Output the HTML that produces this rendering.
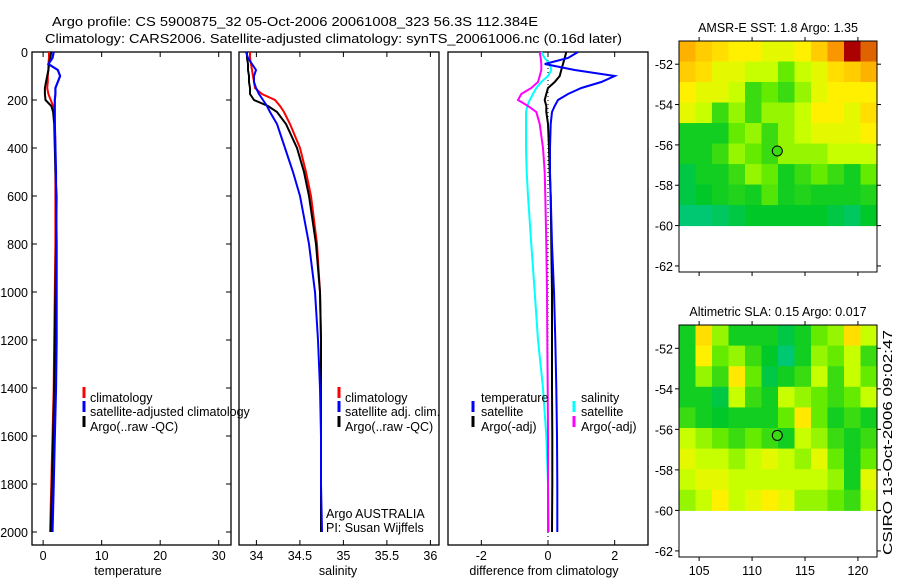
<!DOCTYPE html>
<html><head><meta charset="utf-8"><style>
html,body{margin:0;padding:0;background:#fff;width:900px;height:580px;overflow:hidden}
svg{display:block;font-family:"Liberation Sans",sans-serif;font-size:12.5px}
</style></head><body>
<svg id="fig" width="900" height="580" xmlns="http://www.w3.org/2000/svg">
<text x="52" y="26" textLength="486" lengthAdjust="spacingAndGlyphs">Argo profile: CS 5900875_32 05-Oct-2006 20061008_323 56.3S 112.384E</text>
<text x="45" y="43" textLength="577" lengthAdjust="spacingAndGlyphs">Climatology: CARS2006. Satellite-adjusted climatology: synTS_20061006.nc (0.16d later)</text>
<text transform="translate(892,555) rotate(-90)" textLength="225" lengthAdjust="spacingAndGlyphs">CSIRO 13-Oct-2006 09:02:47</text>
</svg>
<script>
const depth=[0,25,50,75,100,125,150,175,200,225,250,300,400,500,600,800,1000,1200,1400,1600,1800,2000];
const tClim=[1.0,1.0,0.9,0.9,0.8,0.8,0.7,0.9,1.3,1.7,1.9,2.0,2.1,2.1,2.1,2.1,2.0,1.9,1.8,1.6,1.4,1.2];
const tSat=[1.8,1.6,0.9,2.5,2.9,2.5,2.1,2.1,2.0,2.0,2.0,2.0,2.1,2.2,2.2,2.3,2.3,2.3,2.2,2.0,1.8,1.6];
const tArgo=[1.4,1.2,1.0,0.9,0.7,0.5,0.3,0.3,0.4,1.4,1.7,1.9,2.0,2.1,2.3,2.2,2.1,2.0,1.9,1.7,1.5,1.3];
const sClim=[33.926,33.926,33.938,33.95,33.961,33.972,33.984,34.064,34.214,34.271,34.317,34.386,34.501,34.57,34.628,34.697,34.731,34.743,34.743,34.743,34.743,34.743];
const sSat=[33.88,33.903,33.949,33.995,33.972,33.972,33.995,34.03,34.076,34.122,34.156,34.237,34.329,34.421,34.501,34.605,34.674,34.708,34.731,34.743,34.743,34.754];
const sArgo=[33.892,33.892,33.903,33.903,33.915,33.915,33.926,33.926,33.972,34.133,34.237,34.34,34.467,34.547,34.605,34.685,34.731,34.743,34.743,34.743,34.743,34.743];
const dTsat=[0.9,0.6,-0.1,0.8,2.0,1.6,1.0,0.6,0.3,0.2,0.12,0.08,0.06,0.06,0.08,0.12,0.18,0.22,0.25,0.27,0.28,0.28];
const dTargo=[0.55,0.5,0.45,0.4,0.35,0.2,0.0,-0.05,-0.1,-0.05,-0.05,0.0,0.03,0.05,0.08,0.1,0.12,0.12,0.12,0.13,0.13,0.12];
const dSsat=[-0.2,-0.1,0.05,0.1,0.0,-0.2,-0.35,-0.45,-0.55,-0.62,-0.66,-0.66,-0.66,-0.64,-0.6,-0.5,-0.4,-0.3,-0.15,-0.05,0.0,0.03];
const dSargo=[-0.25,-0.22,-0.2,-0.2,-0.25,-0.3,-0.5,-0.8,-0.9,-0.6,-0.35,-0.25,-0.15,-0.1,-0.08,-0.05,-0.03,-0.02,-0.01,0,0,0];
const depthTicks=[0,200,400,600,800,1000,1200,1400,1600,1800,2000];
const tTicks=[0,10,20,30];
const sTicks=[34,34.5,35,35.5,36];
const sTickLabels=["34","34.5","35","35.5","36"];
const dTicks=[-2,0,2];
const lonTicks=[105,110,115,120];
const latTicks=[-52,-54,-56,-58,-60,-62];
const sstGrid=[
[0.75,0.7,0.65,0.6,0.6,0.55,0.55,0.6,0.7,0.8,0.95,0.85],
[0.7,0.65,0.55,0.55,0.5,0.5,0.4,0.5,0.55,0.65,0.7,0.75],
[0.6,0.55,0.55,0.5,0.35,0.4,0.35,0.45,0.55,0.6,0.6,0.6],
[0.55,0.5,0.35,0.45,0.35,0.45,0.45,0.5,0.6,0.6,0.55,0.65],
[0.3,0.3,0.3,0.4,0.45,0.35,0.45,0.5,0.55,0.55,0.55,0.6],
[0.3,0.3,0.35,0.45,0.4,0.35,0.45,0.45,0.45,0.5,0.5,0.5],
[0.25,0.3,0.3,0.35,0.45,0.4,0.3,0.35,0.4,0.35,0.3,0.4],
[0.25,0.28,0.3,0.32,0.3,0.38,0.3,0.32,0.3,0.3,0.3,0.32],
[0.2,0.2,0.22,0.25,0.28,0.28,0.28,0.28,0.28,0.25,0.22,0.28]];
const slaGrid=[
[0.3,0.65,0.45,0.3,0.3,0.3,0.25,0.3,0.4,0.45,0.65,0.5],
[0.3,0.6,0.4,0.45,0.35,0.28,0.2,0.3,0.45,0.4,0.5,0.35],
[0.3,0.45,0.35,0.62,0.4,0.25,0.3,0.35,0.5,0.35,0.5,0.4],
[0.3,0.3,0.25,0.5,0.35,0.3,0.5,0.45,0.4,0.35,0.4,0.5],
[0.35,0.3,0.28,0.3,0.3,0.3,0.4,0.62,0.4,0.3,0.35,0.3],
[0.5,0.45,0.4,0.35,0.4,0.35,0.3,0.5,0.45,0.35,0.3,0.35],
[0.55,0.5,0.5,0.45,0.5,0.55,0.5,0.45,0.55,0.4,0.3,0.4],
[0.5,0.55,0.55,0.5,0.5,0.5,0.5,0.5,0.5,0.45,0.3,0.55],
[0.45,0.5,0.6,0.5,0.55,0.6,0.55,0.45,0.45,0.4,0.35,0.5]];
const argoLon=112.384, argoLat=-56.3;

const NS="http://www.w3.org/2000/svg";
const svg=document.getElementById('fig');
function mk(tag,attrs,parent){const e=document.createElementNS(NS,tag);for(const k in attrs)e.setAttribute(k,attrs[k]);(parent||svg).appendChild(e);return e;}
const yD=d=>52+d*0.24;
function panel(name,x0,x1,vmin,vmax){const g=mk('g',{});return {g,x0,x1,sx:v=>x0+(v-vmin)/(vmax-vmin)*(x1-x0)};}
function frame(p,top,bot){const r=mk('rect',{x:p.x0,y:top,width:p.x1-p.x0,height:bot-top,fill:'none',stroke:'#000','stroke-width':1.3},p.g);}
function xTicks(p,ticks,labels,top,bot){ticks.forEach((t,i)=>{const x=p.sx(t);mk('line',{x1:x,x2:x,y1:top,y2:top+5,stroke:'#000'},p.g);mk('line',{x1:x,x2:x,y1:bot,y2:bot-5,stroke:'#000'},p.g);const tx=mk('text',{x:x,y:bot+15,'text-anchor':'middle'},p.g);tx.textContent=labels[i];});}
function series(p,vals,col,w,nm){const pts=vals.map((v,i)=>p.sx(v).toFixed(1)+','+yD(depth[i]).toFixed(1)).join(' ');const l=mk('polyline',{points:pts,fill:'none',stroke:col,'stroke-width':w},p.g);}
function label(p,txt,x,y,anchor,nm){const t=mk('text',{x:x,y:y,'text-anchor':anchor||'start'},p.g);t.textContent=txt;return t;}
function legBar(p,x,y,col){const l=mk('line',{x1:x,x2:x,y1:y-10,y2:y+1,stroke:col,'stroke-width':3},p.g);}
const TOP=52,BOT=545;
const p1=panel('temperature-panel',32,231,-1.9,32.1);
frame(p1,TOP,BOT);
xTicks(p1,tTicks,tTicks.map(String),TOP,BOT);
depthTicks.forEach(d=>{const y=yD(d);mk('line',{x1:32,x2:37,y1:y,y2:y,stroke:'#000'},p1.g);mk('line',{x1:231,x2:226,y1:y,y2:y,stroke:'#000'},p1.g);label(p1,String(d),28,y+5,'end','y-tick-label');});
series(p1,tClim,'#f00',2,'temp-climatology-line');
series(p1,tArgo,'#000',2,'temp-argo-line');
series(p1,tSat,'#00f',2.2,'temp-satellite-line');
label(p1,'temperature',128,575,'middle','x-axis-title');
legBar(p1,84,397,'#f00');label(p1,'climatology',90,402,'start','legend-entry');
legBar(p1,84,411,'#00f');label(p1,'satellite-adjusted climatology',90,416,'start','legend-entry');
legBar(p1,84,426,'#000');label(p1,'Argo(..raw -QC)',90,431,'start','legend-entry');
const p2=panel('salinity-panel',239,439,33.8,36.099);
frame(p2,TOP,BOT);
xTicks(p2,sTicks,sTickLabels,TOP,BOT);
series(p2,sClim,'#f00',2,'sal-climatology-line');
series(p2,sArgo,'#000',2,'sal-argo-line');
series(p2,sSat,'#00f',2,'sal-satellite-line');
label(p2,'salinity',338,575,'middle','x-axis-title');
legBar(p2,339,397,'#f00');label(p2,'climatology',345,402,'start','legend-entry');
legBar(p2,339,411,'#00f');label(p2,'satellite adj. clim.',345,416,'start','legend-entry');
legBar(p2,339,426,'#000');label(p2,'Argo(..raw -QC)',345,431,'start','legend-entry');
label(p2,'Argo AUSTRALIA',326,518,'start','institution-label');
label(p2,'PI: Susan Wijffels',326,532,'start','pi-label');
const p3=panel('difference-panel',448,648,-3,3);
frame(p3,TOP,BOT);
xTicks(p3,dTicks,dTicks.map(String),TOP,BOT);
const zl=mk('line',{x1:p3.sx(0),x2:p3.sx(0),y1:yD(0),y2:yD(2000)+8,stroke:'#000','stroke-dasharray':'1,3'},p3.g);
series(p3,dSsat,'#0ff',2,'diff-sal-satellite-line');
series(p3,dSargo,'#f0f',2,'diff-sal-argo-line');
series(p3,dTargo,'#000',2,'diff-temp-argo-line');
series(p3,dTsat,'#00f',2,'diff-temp-satellite-line');
label(p3,'difference from climatology',544,575,'middle','x-axis-title');
label(p3,'temperature',481,402,'start','legend-title');
legBar(p3,473,411,'#00f');label(p3,'satellite',481,416,'start','legend-entry');
legBar(p3,473,426,'#000');label(p3,'Argo(-adj)',481,431,'start','legend-entry');
label(p3,'salinity',581,402,'start','legend-title');
legBar(p3,574,411,'#0ff');label(p3,'satellite',581,416,'start','legend-entry');
legBar(p3,574,426,'#f0f');label(p3,'Argo(-adj)',581,431,'start','legend-entry');
const stops=[[0.15,[0,200,160]],[0.28,[0,200,40]],[0.4,[100,235,0]],[0.5,[200,255,0]],[0.6,[255,240,0]],[0.7,[255,205,0]],[0.8,[250,150,0]],[0.95,[170,0,0]]];
function cmap(v){if(v<=stops[0][0])return 'rgb('+stops[0][1]+')';for(let i=1;i<stops.length;i++){if(v<=stops[i][0]){const a=stops[i-1],b=stops[i],f=(v-a[0])/(b[0]-a[0]);return 'rgb('+a[1].map((c,k)=>Math.round(c+(b[1][k]-c)*f)).join(',')+')';}}return 'rgb('+stops[stops.length-1][1]+')';}
function map(name,top,bot,title,grid,xlabels){
 const g=mk('g',{});
 const x0=679,x1=877,lon0=103.1,lon1=121.8,lat0=-50.85,lat1=-62.3;
 const sx=l=>x0+(l-lon0)/(lon1-lon0)*(x1-x0),sy=l=>top+(l-lat0)/(lat1-lat0)*(bot-top);
 const rows=grid.length,cols=grid[0].length,cw=(lon1-lon0)/cols,rh=(lat0+60)/rows;
 grid.forEach((row,r)=>row.forEach((v,c)=>{const xa=sx(lon0+c*cw),xb=sx(lon0+(c+1)*cw),ya=sy(lat0-r*rh),yb=sy(lat0-(r+1)*rh);const e=mk('rect',{x:xa,y:ya,width:xb-xa+0.5,height:yb-ya+0.5,fill:cmap(v)},g);}));
 mk('rect',{x:x0,y:top,width:x1-x0,height:bot-top,fill:'none',stroke:'#000','stroke-width':1},g);
 lonTicks.forEach(l=>{const x=sx(l);mk('line',{x1:x,x2:x,y1:top,y2:top-4,stroke:'#000'},g);mk('line',{x1:x,x2:x,y1:bot,y2:bot+4,stroke:'#000'},g);if(xlabels){const t=mk('text',{x:x,y:bot+18,'text-anchor':'middle'},g);t.textContent=String(l);}});
 latTicks.forEach(l=>{const y=sy(l);mk('line',{x1:x0,x2:x0-4,y1:y,y2:y,stroke:'#000'},g);mk('line',{x1:x1,x2:x1+4,y1:y,y2:y,stroke:'#000'},g);const t=mk('text',{x:x0-6,y:y+5,'text-anchor':'end'},g);t.textContent=String(l);});
 const ri=Math.min(rows-1,Math.max(0,Math.floor((lat0-argoLat)/rh))),ci=Math.min(cols-1,Math.max(0,Math.floor((argoLon-lon0)/cw)));
 const c=mk('circle',{cx:sx(argoLon),cy:sy(argoLat),r:5,fill:cmap(grid[ri][ci]),stroke:'#000','stroke-width':1},g);
 const t=mk('text',{x:778,y:top-9,'text-anchor':'middle'},g);t.textContent=title;
}
map('sst-map',41,272,'AMSR-E SST: 1.8 Argo: 1.35',sstGrid,false);
map('sla-map',325,557,'Altimetric SLA: 0.15 Argo: 0.017',slaGrid,true);
</script>
</body></html>
